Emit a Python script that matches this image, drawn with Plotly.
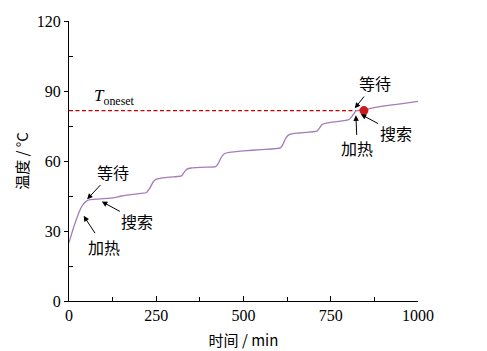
import plotly.graph_objects as go

# Temperature curve (time in min, temperature in °C)
time_min = [0, 5, 10, 20, 30, 40, 50, 60, 80, 100, 130, 150, 200, 222, 232, 242, 252, 270, 300, 322,
            330, 338, 350, 380, 420, 428, 436, 446, 460, 500, 550, 606, 614, 622, 632, 660, 710,
            717, 725, 740, 800, 808, 815, 822, 845, 900, 950, 1000]
temp_c = [25, 27.5, 30, 34.5, 38.5, 41.3, 42.8, 43.4, 43.7, 43.9, 44.3, 45.0, 46.0, 46.5, 48.5, 51.2, 52.3, 52.8, 53.2, 53.6,
          55.2, 56.5, 57.0, 57.3, 57.6, 59.0, 61.5, 63.2, 63.7, 64.3, 64.9, 65.6, 67.5, 70.0, 71.4, 72.0, 72.8,
          74.0, 75.6, 76.3, 77.6, 78.6, 80.0, 81.4, 82.0, 83.5, 84.5, 85.6]

t_onset = 81.6
onset_x = [0, 822]
dot_time = 845
dot_temp = 81.6

x_ticks = [0, 250, 500, 750, 1000]
y_ticks = [0, 30, 60, 90, 120]

# annotation labels: (text, text_x, text_y, head_x, head_y)
labels = [
    ("等待", 126, 55.5, 52, 43.6),
    ("搜索", 196, 34.3, 94, 42.6),
    ("加热", 100, 23.3, 42, 36.5),
    ("等待", 876, 93.4, 819, 82.6),
    ("搜索", 936, 72.0, 836, 80.0),
    ("加热", 826, 65.4, 822, 79.6),
]

serif = "Liberation Serif, Times New Roman, Noto Sans CJK SC"

fig = go.Figure()
fig.add_trace(go.Scatter(x=onset_x, y=[t_onset, t_onset], mode="lines",
                         line=dict(color="#c80000", width=1.1, dash="4px,2.5px"), hoverinfo="skip"))
fig.add_trace(go.Scatter(x=time_min, y=temp_c, mode="lines",
                         line=dict(color="#a57bb8", width=1.3, shape="spline", smoothing=0.5)))
fig.add_trace(go.Scatter(x=[dot_time], y=[dot_temp], mode="markers",
                         marker=dict(color="#cc1a1a", size=9, line=dict(width=0))))

anns = []
for text, tx, ty, hx, hy in labels:
    anns.append(dict(x=hx, y=hy, ax=tx, ay=ty, axref="x", ayref="y", xref="x", yref="y",
                     text=text, showarrow=True, arrowhead=2, arrowsize=1.1, arrowwidth=1,
                     arrowcolor="black", standoff=0,
                     font=dict(family="Noto Sans CJK SC", size=16, color="black")))
anns.append(dict(x=66, y=87.6, xref="x", yref="y", xanchor="left", showarrow=False,
                 text="<i>T</i><sub>oneset</sub>",
                 font=dict(family=serif, size=17, color="black")))

fig.update_layout(
    width=487, height=351,
    margin=dict(l=69, r=69, t=21, b=50),
    paper_bgcolor="white", plot_bgcolor="white",
    showlegend=False,
    annotations=anns,
    font=dict(family=serif, size=16, color="black"),
)
fig.update_xaxes(range=[0, 1000], tickvals=x_ticks, ticks="inside", ticklen=5, tickcolor="black",
                 showline=True, linecolor="black", linewidth=1, showgrid=False, zeroline=False,
                 automargin=False,
                 minor=dict(tickvals=[125, 375, 625, 875], ticks="inside", ticklen=4, tickcolor="black"),
                 tickfont=dict(family=serif, size=16),
                 title=dict(text="时间 / min", font=dict(family="Noto Sans CJK SC, " + serif, size=15), standoff=12))
fig.update_yaxes(range=[0, 120], tickvals=y_ticks, ticks="outside", ticklen=4, tickcolor="black",
                 showline=True, linecolor="black", linewidth=1, showgrid=False, zeroline=False,
                 automargin=False,
                 minor=dict(tickvals=[15, 45, 75, 105], ticks="inside", ticklen=4, tickcolor="black"),
                 tickfont=dict(family=serif, size=16),
                 title=dict(text="温度 / °C", font=dict(family="Noto Sans CJK SC, " + serif, size=15), standoff=4))

fig.write_html("out.html")
